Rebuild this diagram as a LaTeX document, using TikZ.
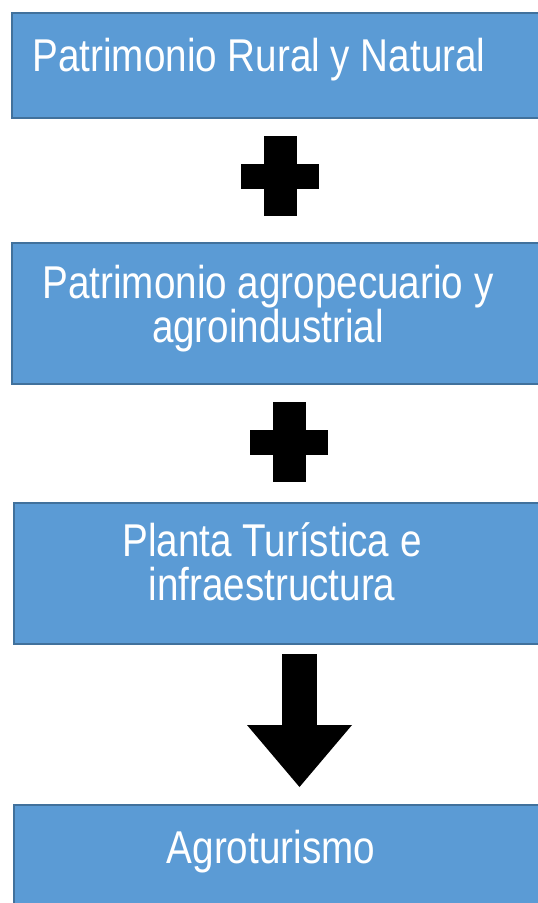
\documentclass[tikz,border=0pt]{standalone}
\usepackage{fontspec}
\setmainfont{Liberation Sans}
\newfontfamily\boxfont[FakeStretch=0.84]{Liberation Sans}
\usetikzlibrary{positioning,arrows.meta}
\definecolor{BoxBlue}{HTML}{5B9BD5}
\definecolor{BoxLine}{HTML}{41719C}

\begin{document}
\begin{tikzpicture}[
    x=1pt, y=1pt,
    box/.style={
      draw=BoxLine,
      fill=BoxBlue,
      line width=1.5pt,
      anchor=north west,
      minimum width=540pt,
      inner sep=0pt
    },
    boxtext/.style={
      text=white,
      font=\boxfont\fontsize{46}{44}\selectfont,
      align=center,
      anchor=base,
      inner sep=0pt
    },
    plussign/.pic={
      \fill (-39,-12.5) rectangle (39,12.5);
      \fill (-16.5,-40) rectangle (16.5,40);
    },
    blockarrow/.style={
      -{Triangle[length=62pt,width=105pt,line width=0pt]},
      line width=35pt,
      black
    }
  ]

  \path[clip] (0,0) rectangle (538,-903);

  % bloques
  \node[box, minimum height=105pt] (rural) at (11,-12) {};
  \node[box, minimum height=141pt] (agro) at (11,-242) {};
  \node[box, minimum height=141pt] (planta) at (13,-502) {};
  \node[box, minimum height=110pt] (agrotur) at (13,-804) {};

  % textos (base = linea inferior)
  \node[boxtext] (ruraltxt) at (259,-71) {Patrimonio Rural y Natural};
  \node[boxtext] (agrotxt) at (268,-342) {Patrimonio agropecuario y\\agroindustrial};
  \node[boxtext] (plantatxt) at (272,-600) {Planta Turística e\\infraestructura};
  \node[boxtext] (agroturtxt) at (271,-863) {Agroturismo};

  % signos de suma
  \pic at (280,-176) {plussign};
  \pic at (289,-442) {plussign};

  % flecha hacia el agroturismo
  \coordinate (arrtop) at (299.5,-654);
  \coordinate (arrtip) at (299.5,-787);
  \draw[blockarrow] (arrtop) -- (arrtip);

\end{tikzpicture}
\end{document}
